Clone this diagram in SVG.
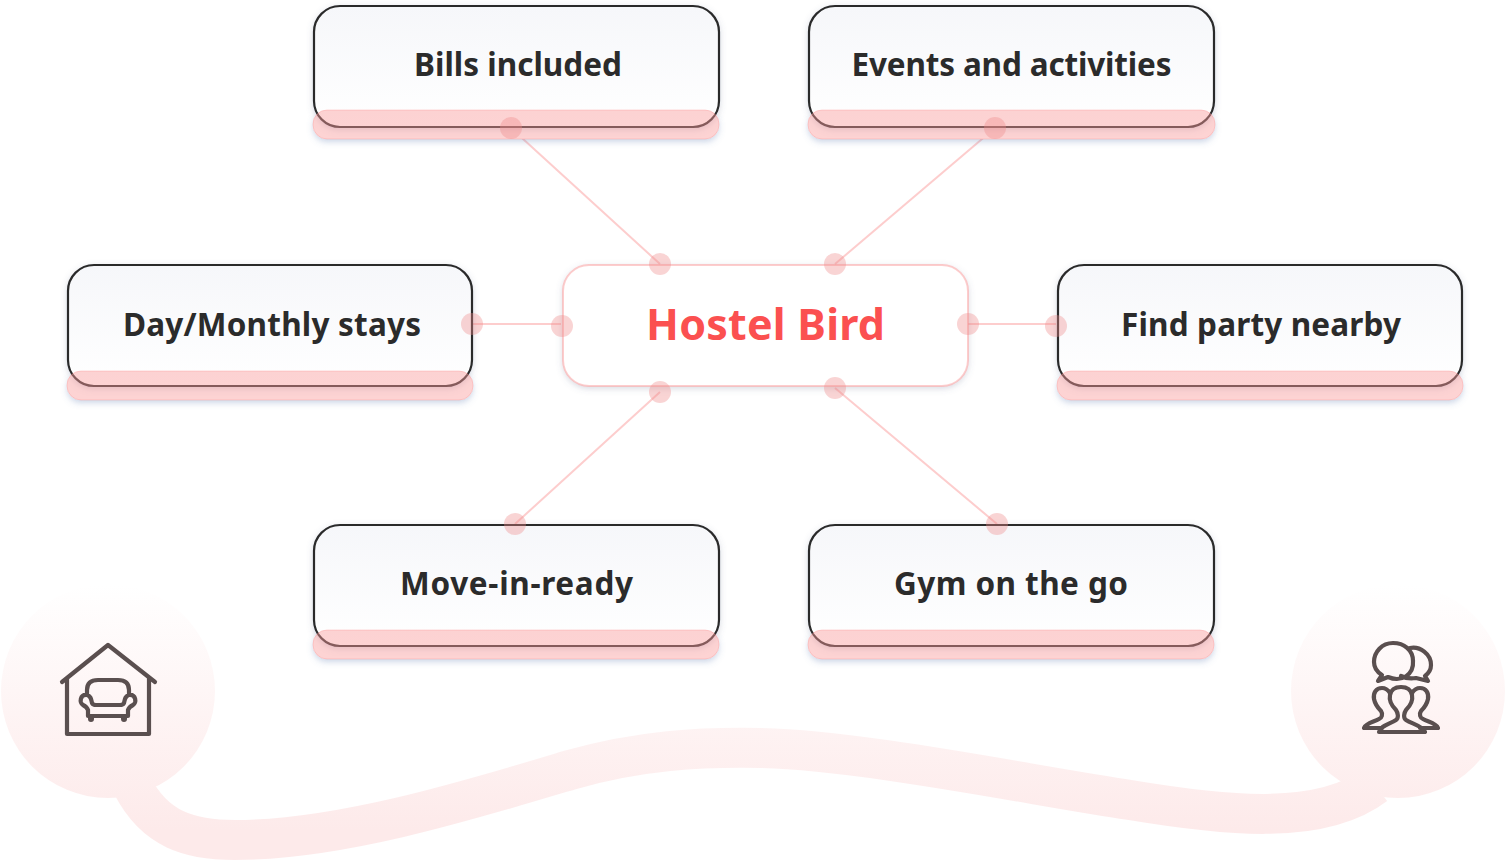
<svg xmlns="http://www.w3.org/2000/svg" width="1505" height="860" viewBox="0 0 1505 860">
<style>
.box{fill:url(#boxg);stroke:#2b2b2b;stroke-width:2.2;filter:url(#sh)}
.bar{fill:#fb9a9a;fill-opacity:.44;stroke:#fb8f8f;stroke-opacity:.35;stroke-width:1}
.under{fill:#fff;filter:url(#sb)}
.lbl{font-family:"Noto Sans","Open Sans",sans-serif;font-weight:700;font-size:31.5px;fill:#2b2b2b;text-anchor:middle}
.dot{fill:#f08a8a;fill-opacity:.37}
.ln{stroke:#fb9c9c;stroke-opacity:.5;stroke-width:2;fill:none}
.ic{fill:none;stroke:#5a4f4f;stroke-width:4.2;stroke-linecap:round;stroke-linejoin:round}
</style>
<defs>
<linearGradient id="boxg" x1="0" y1="0" x2="0" y2="1"><stop offset="0" stop-color="#f6f7fa"/><stop offset="1" stop-color="#ffffff"/></linearGradient>
<linearGradient id="bg" gradientUnits="userSpaceOnUse" x1="0" y1="585" x2="0" y2="830"><stop offset="0" stop-color="#ffffff"/><stop offset="1" stop-color="#fdeaea"/></linearGradient>
<filter id="sh" x="-5%" y="-10%" width="110%" height="130%"><feDropShadow dx="0" dy="2" stdDeviation="3" flood-color="#5a6a8a" flood-opacity=".25"/></filter>
<filter id="sb" x="-5%" y="-30%" width="110%" height="180%"><feDropShadow dx="0" dy="3" stdDeviation="3" flood-color="#5a7ab0" flood-opacity=".3"/></filter>
</defs>
<g id="backdrop">
<circle cx="108" cy="691" r="107" fill="url(#bg)"/>
<circle cx="1398" cy="691" r="107" fill="url(#bg)"/>
<path d="M132 785C155 830 190 840 235 840C340 840 470 800 570 770C640 750 700 747 760 748C860 750 1030 785 1130 800C1220 815 1320 827 1375 785" fill="none" stroke="url(#bg)" stroke-width="40"/>
</g>
<g id="connectors">
<path class="ln" d="M511 128L660 264M995 128L835 264M472 324H561M968 324H1056M660 392L515 524M835 388L997 524"/>
</g>
<g id="node-bills"><rect class="under" x="313" y="110" width="406" height="29" rx="14"/><rect class="box" x="314" y="6" width="405" height="121" rx="26"/><rect class="bar" x="313" y="110" width="406" height="29" rx="14"/><text class="lbl" x="518" y="76" textLength="208">Bills included</text></g>
<g id="node-events"><rect class="under" x="808" y="110" width="407" height="29" rx="14"/><rect class="box" x="809" y="6" width="405" height="121" rx="26"/><rect class="bar" x="808" y="110" width="407" height="29" rx="14"/><text class="lbl" x="1011.500" y="76" textLength="320">Events and activities</text></g>
<g id="node-day"><rect class="under" x="67" y="371" width="406" height="29" rx="14"/><rect class="box" x="68" y="265" width="404" height="121" rx="26"/><rect class="bar" x="67" y="371" width="406" height="29" rx="14"/><text class="lbl" x="272" y="335.500" textLength="298">Day/Monthly stays</text></g>
<g id="node-party"><rect class="under" x="1057" y="371" width="406" height="29" rx="14"/><rect class="box" x="1058" y="265" width="404" height="121" rx="26"/><rect class="bar" x="1057" y="371" width="406" height="29" rx="14"/><text class="lbl" x="1261" y="335.500" textLength="280">Find party nearby</text></g>
<g id="node-move"><rect class="under" x="313" y="630" width="406" height="29" rx="14"/><rect class="box" x="314" y="525" width="405" height="121" rx="26"/><rect class="bar" x="313" y="630" width="406" height="29" rx="14"/><text class="lbl" x="516.500" y="595" textLength="233">Move-in-ready</text></g>
<g id="node-gym"><rect class="under" x="808" y="630" width="406" height="29" rx="14"/><rect class="box" x="809" y="525" width="405" height="121" rx="26"/><rect class="bar" x="808" y="630" width="406" height="29" rx="14"/><text class="lbl" x="1011" y="595" textLength="234">Gym on the go</text></g>
<g id="node-center"><rect x="563" y="265" width="405" height="121" rx="26" fill="#fff" stroke="#fb9c9c" stroke-opacity=".5" stroke-width="2" filter="url(#sh)"/><text x="765.500" y="340" text-anchor="middle" font-family="'Noto Sans','Open Sans',sans-serif" font-weight="700" font-size="43" fill="#fb5050" textLength="239">Hostel Bird</text></g>
<g id="dots">
<circle class="dot" cx="511" cy="128" r="11"/><circle class="dot" cx="995" cy="128" r="11"/><circle class="dot" cx="660" cy="264" r="11"/><circle class="dot" cx="835" cy="264" r="11"/><circle class="dot" cx="472" cy="324" r="11"/><circle class="dot" cx="562" cy="326" r="11"/><circle class="dot" cx="968" cy="324" r="11"/><circle class="dot" cx="1056" cy="326" r="11"/><circle class="dot" cx="660" cy="392" r="11"/><circle class="dot" cx="835" cy="388" r="11"/><circle class="dot" cx="515" cy="524" r="11"/><circle class="dot" cx="997" cy="524" r="11"/>
</g>
<g id="icon-home" class="ic">
<path d="M62 682L108 645L155 682M67 678V734H149V678"/>
<path d="M87 695V690Q87 680 98 680H118Q129 680 129 690V695M87 695C80 694 79 703 83 705Q87 707 88 710V716H128V710Q129 707 133 705C137 703 136 694 129 695C125 696 125 699 124 703Q123 705 120 705H96Q93 705 92 703C91 699 91 696 87 695Z"/>
<path d="M91 717V719M124 717V719" stroke-width="6"/>
</g>
<g id="icon-people" class="ic">
<path d="M1378 681L1388 677C1402 683 1414 674 1413 661C1413 650 1404 643 1393 643C1382 643 1374 652 1374 662C1374 668 1377 672 1382 675Z"/>
<path d="M1410 648C1420 646 1431 654 1431 665C1431 670 1429 673 1425 676L1428 681L1416 678C1410 679 1405 678 1401 676"/>
<path d="M1379 732C1380 726 1390 724 1396 720C1399 718 1398 713 1396 710C1391 705 1389 700 1390 695C1391 690 1395 687 1401 687C1407 687 1411 690 1412 695C1413 700 1411 705 1406 710C1404 713 1403 718 1406 720C1412 724 1423 726 1425 732Z"/>
<path d="M1390 693C1388 690 1385 688 1382 688C1376 688 1373 693 1374 699C1375 704 1378 708 1381 711C1383 714 1382 718 1379 719C1374 722 1366 723 1364 728H1382"/>
<path d="M1412 693C1414 690 1417 688 1420 688C1426 688 1429 693 1428 699C1427 704 1424 708 1421 711C1419 714 1420 718 1423 719C1428 722 1436 723 1438 728H1420"/>
</g>
</svg>
